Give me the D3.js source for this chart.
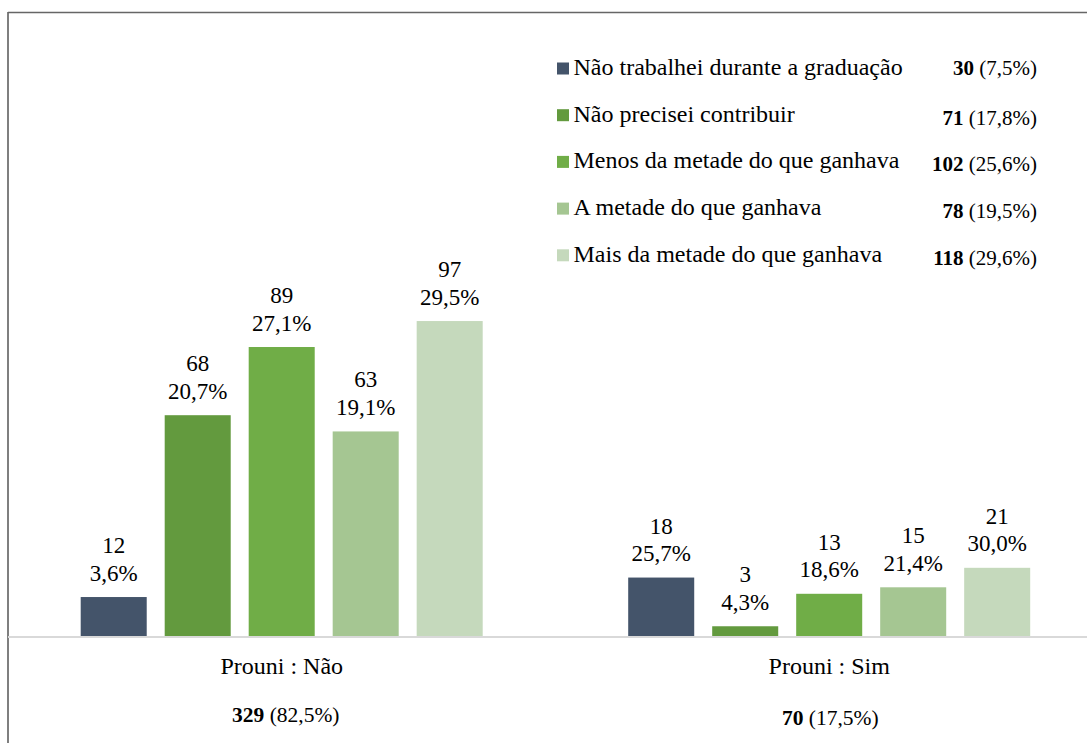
<!DOCTYPE html>
<html>
<head>
<meta charset="utf-8">
<script src="https://cdn.jsdelivr.net/npm/d3@7.9.0/dist/d3.min.js"></script>
<style>
  body { margin: 0; background: #fff; }
  svg text { fill: #000; }
</style>
</head>
<body>
<svg id="chart"></svg>
<script>
// categories (legend order)
const categories = [
  "Não trabalhei durante a graduação",
  "Não precisei contribuir",
  "Menos da metade do que ganhava",
  "A metade do que ganhava",
  "Mais da metade do que ganhava"
];
const groups = ["Prouni : Não", "Prouni : Sim"];

// counts per group
const valuesNao = [12, 68, 89, 63, 97];
const valuesSim = [18, 3, 13, 15, 21];
const pctNao = ["3,6%", "20,7%", "27,1%", "19,1%", "29,5%"];
const pctSim = ["25,7%", "4,3%", "18,6%", "21,4%", "30,0%"];

// totals shown in legend and under groups
const categoryTotals = [30, 71, 102, 78, 118];
const categoryTotalPct = ["7,5%", "17,8%", "25,6%", "19,5%", "29,6%"];
const groupTotals = [329, 70];
const groupTotalPct = ["82,5%", "17,5%"];

const colors = ["#44546A", "#639A3E", "#70AD47", "#A5C692", "#C5D9BC"];

const width = 1087, height = 743;
const svg = d3.select("#chart")
  .attr("width", width).attr("height", height)
  .attr("font-family", "Liberation Serif, Times New Roman, serif");

// frame (only left and top edges visible)
svg.append("line").attr("x1", 8).attr("x2", 8).attr("y1", 12).attr("y2", height)
  .attr("stroke", "#555").attr("stroke-width", 1.5);
svg.append("line").attr("x1", 8).attr("x2", width).attr("y1", 12.5).attr("y2", 12.5)
  .attr("stroke", "#666").attr("stroke-width", 1.5);

const baseY = 636;
const x0 = d3.scaleBand().domain(groups).range([8, 1103]).padding(0);
const x1 = d3.scaleBand().domain(categories)
  .range([72.7, 474.7]).paddingInner(0.214).paddingOuter(0);
const y = d3.scaleLinear().domain([0, 100]).range([baseY, baseY - 324.7]);

const series = [
  { group: groups[0], values: valuesNao, pct: pctNao },
  { group: groups[1], values: valuesSim, pct: pctSim }
];

const g = svg.selectAll("g.group")
  .data(series)
  .enter()
  .append("g")
  .attr("class", "group")
  .attr("transform", d => `translate(${x0(d.group)},0)`);

const cells = g.selectAll("g.cell")
  .data(d => d.values.map((v, i) => ({ v, pct: d.pct[i], cat: categories[i], i })))
  .enter()
  .append("g")
  .attr("class", "cell");

cells.append("rect")
  .attr("x", d => x1(d.cat))
  .attr("width", x1.bandwidth())
  .attr("y", d => y(d.v))
  .attr("height", d => baseY - y(d.v))
  .attr("fill", (d) => colors[d.i]);

cells.append("text")
  .attr("x", d => x1(d.cat) + x1.bandwidth() / 2)
  .attr("y", d => y(d.v) - 16.5)
  .attr("text-anchor", "middle")
  .attr("font-size", 23)
  .text(d => d.pct);

cells.append("text")
  .attr("x", d => x1(d.cat) + x1.bandwidth() / 2)
  .attr("y", d => y(d.v) - 44)
  .attr("text-anchor", "middle")
  .attr("font-size", 23)
  .text(d => d.v);

// baseline
svg.append("line").attr("x1", 8).attr("x2", width).attr("y1", baseY + 1).attr("y2", baseY + 1)
  .attr("stroke", "#d9d9d9").attr("stroke-width", 2);

// group labels
groups.forEach((grp, i) => {
  const cx = x0(grp) + x0.bandwidth() / 2;
  svg.append("text")
    .attr("x", cx).attr("y", 673.5)
    .attr("text-anchor", "middle")
    .attr("font-size", 24)
    .text(grp);
  const t = svg.append("text")
    .attr("x", cx + (i === 0 ? 4 : 1)).attr("y", i === 0 ? 722 : 725)
    .attr("text-anchor", "middle")
    .attr("font-size", 21.5);
  t.append("tspan").attr("font-weight", "bold").text(groupTotals[i]);
  t.append("tspan").text(` (${groupTotalPct[i]})`);
});

// legend
const legend = svg.append("g");
categories.forEach((c, i) => {
  const by = 75 + i * 46.7;
  legend.append("rect")
    .attr("x", 557).attr("y", by - 12.5)
    .attr("width", 12).attr("height", 12)
    .attr("fill", colors[i]);
  legend.append("text")
    .attr("x", 573.5).attr("y", by)
    .attr("font-size", 24)
    .text(c);
  const t = legend.append("text")
    .attr("x", 1037).attr("y", by + (i === 0 ? 0 : 3))
    .attr("text-anchor", "end")
    .attr("font-size", 21);
  t.append("tspan").attr("font-weight", "bold").text(categoryTotals[i]);
  t.append("tspan").text(` (${categoryTotalPct[i]})`);
});
</script>
</body>
</html>
